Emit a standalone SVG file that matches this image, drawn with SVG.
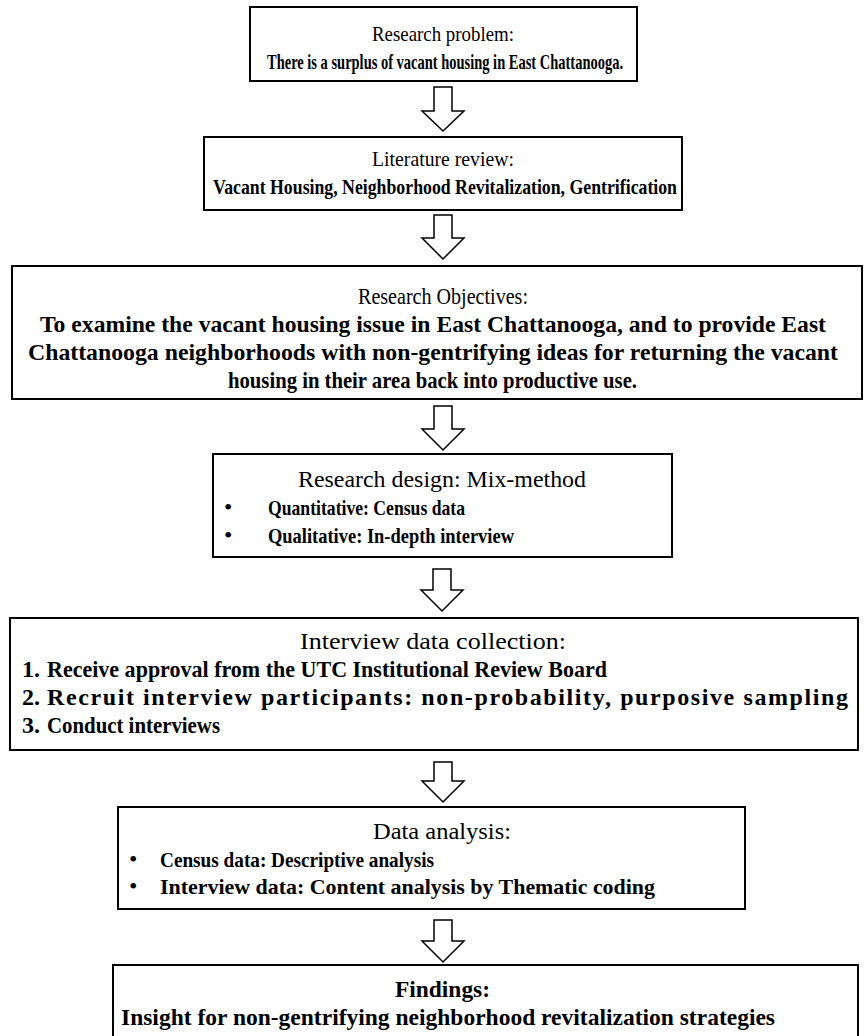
<svg xmlns="http://www.w3.org/2000/svg" width="868" height="1036" viewBox="0 0 868 1036">
<style>
.box{fill:#fff;stroke:#000;stroke-width:2}
.arr{fill:#fff;stroke:#000;stroke-width:1.5;stroke-linejoin:miter}
text{font-family:"Liberation Serif","Times New Roman",serif;font-size:24px;fill:#000}
.b{font-weight:bold}
.s{font-size:22px}
</style>
<rect width="868" height="1036" fill="#fff"/>
<g id="connectors">
<polygon class="arr" points="434,87 452,87 452,111 464,111 443,131 422,111 434,111"/>
<polygon class="arr" points="434,215 452,215 452,238 464,238 443,259 422,238 434,238"/>
<polygon class="arr" points="434,406 452,406 452,429 464,429 443,450 422,429 434,429"/>
<polygon class="arr" points="433,569 451,569 451,590 463,590 442,611 421,590 433,590"/>
<polygon class="arr" points="434,762 452,762 452,781 464,781 443,802 422,781 434,781"/>
<polygon class="arr" points="434,920 452,920 452,941 464,941 443,962 422,941 434,941"/>
</g>
<g id="n1">
<rect class="box" x="250" y="7" width="387" height="74"/>
<text class="s" x="372" y="41" textLength="142" lengthAdjust="spacingAndGlyphs">Research problem:</text>
<text class="b s" x="267" y="69" textLength="356" lengthAdjust="spacingAndGlyphs">There is a surplus of vacant housing in East Chattanooga.</text>
</g>
<g id="n2">
<rect class="box" x="204" y="137" width="478" height="73"/>
<text class="s" x="372" y="166" textLength="142" lengthAdjust="spacingAndGlyphs">Literature review:</text>
<text class="b s" x="213" y="194" textLength="464" lengthAdjust="spacingAndGlyphs">Vacant Housing, Neighborhood Revitalization, Gentrification</text>
</g>
<g id="n3">
<rect class="box" x="12" y="266" width="850" height="133"/>
<text x="358" y="304" textLength="170" lengthAdjust="spacingAndGlyphs">Research Objectives:</text>
<text class="b" x="40" y="332" textLength="786" lengthAdjust="spacingAndGlyphs">To examine the vacant housing issue in East Chattanooga, and to provide East</text>
<text class="b" x="28" y="360" textLength="810" lengthAdjust="spacingAndGlyphs">Chattanooga neighborhoods with non-gentrifying ideas for returning the vacant</text>
<text class="b" x="228" y="388" textLength="409" lengthAdjust="spacingAndGlyphs">housing in their area back into productive use.</text>
</g>
<g id="n4">
<rect class="box" x="213" y="454" width="459" height="103"/>
<text x="298" y="487" textLength="288" lengthAdjust="spacingAndGlyphs">Research design: Mix-method</text>
<text x="224" y="515">•</text>
<text class="b s" x="268" y="515" textLength="197" lengthAdjust="spacingAndGlyphs">Quantitative: Census data</text>
<text x="224" y="543">•</text>
<text class="b s" x="268" y="543" textLength="246" lengthAdjust="spacingAndGlyphs">Qualitative: In-depth interview</text>
</g>
<g id="n5">
<rect class="box" x="10" y="618" width="848" height="132"/>
<text x="300" y="649" textLength="266" lengthAdjust="spacingAndGlyphs">Interview data collection:</text>
<text class="b" x="22" y="677">1.</text>
<text class="b" x="47" y="677" textLength="560" lengthAdjust="spacingAndGlyphs">Receive approval from the UTC Institutional Review Board</text>
<text class="b" x="22" y="705">2.</text>
<text class="b" x="47" y="705" textLength="801" lengthAdjust="spacing">Recruit interview participants: non-probability, purposive sampling</text>
<text class="b" x="22" y="733">3.</text>
<text class="b" x="47" y="733" textLength="173" lengthAdjust="spacingAndGlyphs">Conduct interviews</text>
</g>
<g id="n6">
<rect class="box" x="118" y="807" width="627" height="102"/>
<text x="373" y="839" textLength="138" lengthAdjust="spacingAndGlyphs">Data analysis:</text>
<text x="129" y="867">•</text>
<text class="b s" x="160" y="867" textLength="274" lengthAdjust="spacingAndGlyphs">Census data: Descriptive analysis</text>
<text x="129" y="894">•</text>
<text class="b s" x="160" y="894" textLength="495" lengthAdjust="spacingAndGlyphs">Interview data: Content analysis by Thematic coding</text>
</g>
<g id="n7">
<rect class="box" x="113" y="965" width="745" height="80"/>
<text class="b" x="395" y="997" textLength="95" lengthAdjust="spacingAndGlyphs">Findings:</text>
<text class="b" x="121" y="1025" textLength="654" lengthAdjust="spacingAndGlyphs">Insight for non-gentrifying neighborhood revitalization strategies</text>
</g>
</svg>
